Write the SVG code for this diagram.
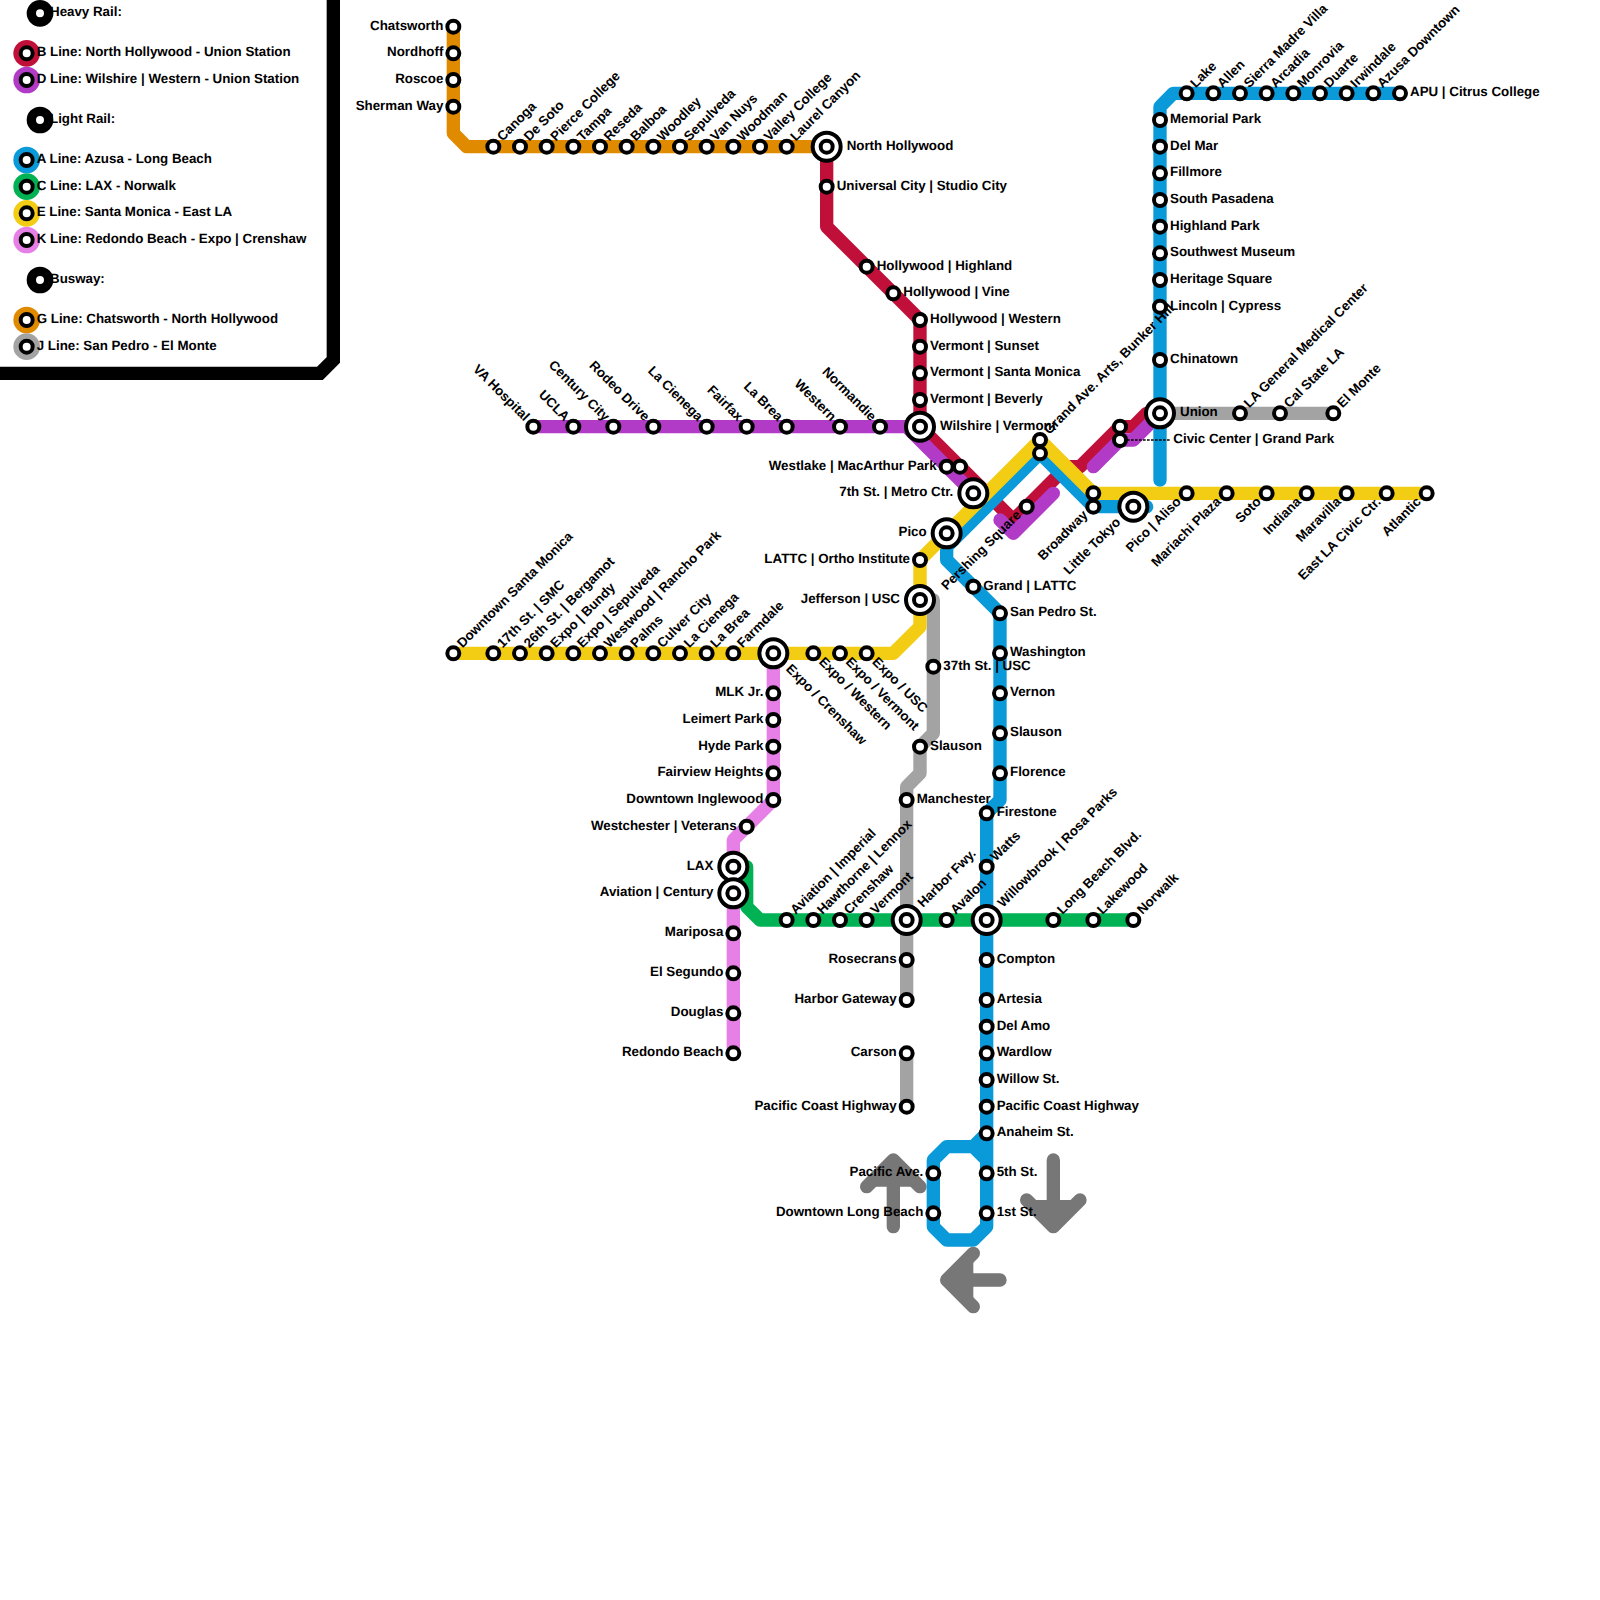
<svg xmlns="http://www.w3.org/2000/svg" width="1600" height="1600" viewBox="0 0 1600 1600">
<style>
text{font-family:"Liberation Sans",Arial,sans-serif;font-size:13.33px;font-weight:bold;fill:#000;text-rendering:geometricPrecision}
.e{text-anchor:end}
.ln{fill:none;stroke-width:1;stroke-linejoin:round;stroke-linecap:round}
.ar{fill:#777;stroke:#777;stroke-width:1;stroke-linejoin:round;stroke-linecap:round}
.st{fill:#fff;stroke:#000;stroke-width:4}
</style>
<defs>
<g id="s"><circle class="st" r="6"/></g>
<g id="b"><circle class="st" r="14"/><circle class="st" r="6"/></g>
</defs>
<rect width="1600" height="1600" fill="#fff"/>
<path d="M333.33-10V360L320 373.33H-10" fill="none" stroke="#000" stroke-width="13.33"/>
<g id="connectors" transform="scale(13.3333)">
<g id="arrows">
<path class="ar" d="M67 92V87M65 89L67 87L69 89"/>
<path class="ar" d="M79 87V92M77 90L79 92L81 90"/>
<path class="ar" d="M75 96H71M73 94L71 96L73 98"/>
</g>
<path id="line-G" class="ln" stroke="#e08a00" d="M34 2V10L35 11H62"/>
<path id="line-J" class="ln" stroke="#a3a3a3" d="M87 31H100M70 45V55L69 56V58L68 59V75M68 79V83"/>
<path id="line-C" class="ln" stroke="#00b253" d="M55 65H56V68L57 69H85"/>
<path id="line-K" class="ln" stroke="#e680e6" d="M58 49V60L55 63V79"/>
<path id="line-B" class="ln" stroke="#c0103a" d="M62 11V17L69 24V32L76 39L80 35H81L84 32H85L86 31H87"/>
<path id="line-D" class="ln" stroke="#b13bc6" d="M40 32H68L73 37M75 39L76 40L79 37M82 35L84 33H85L87 31"/>
<path id="line-A" class="ln" stroke="#0a99d9" d="M105 7H88L87 8V36M86 38H82L78 34L71 41V42L75 46V60L74 61V92L73 93H71L70 92V87L71 86H73L74 85M73 86L74 87"/>
<path id="line-E" class="ln" stroke="#f2cd14" d="M34 49H67L69 47V42L78 33L82 37H107"/>
</g>
<g id="legend">
<g id="lg-heavy" transform="translate(40 13.33)"><text x="10" y="3">Heavy Rail:</text><circle r="13.33"/><use href="#s"/></g>
<g id="lg-b" transform="translate(26.67 53.33)"><circle r="13.33" fill="#c0103a"/><text x="10" y="3">B Line: North Hollywood - Union Station</text><use href="#s"/></g>
<g id="lg-d" transform="translate(26.67 80)"><circle r="13.33" fill="#b13bc6"/><text x="10" y="3">D Line: Wilshire | Western - Union Station</text><use href="#s"/></g>
<g id="lg-light" transform="translate(40 120)"><text x="10" y="3">Light Rail:</text><circle r="13.33"/><use href="#s"/></g>
<g id="lg-a" transform="translate(26.67 160)"><circle r="13.33" fill="#0a99d9"/><text x="10" y="3">A Line: Azusa - Long Beach</text><use href="#s"/></g>
<g id="lg-c" transform="translate(26.67 186.67)"><circle r="13.33" fill="#00b253"/><text x="10" y="3">C Line: LAX - Norwalk</text><use href="#s"/></g>
<g id="lg-e" transform="translate(26.67 213.33)"><circle r="13.33" fill="#f2cd14"/><text x="10" y="3">E Line: Santa Monica - East LA</text><use href="#s"/></g>
<g id="lg-k" transform="translate(26.67 240)"><circle r="13.33" fill="#e680e6"/><text x="10" y="3">K Line: Redondo Beach - Expo | Crenshaw</text><use href="#s"/></g>
<g id="lg-bus" transform="translate(40 280)"><text x="10" y="3">Busway:</text><circle r="13.33"/><use href="#s"/></g>
<g id="lg-g" transform="translate(26.67 320)"><circle r="13.33" fill="#e08a00"/><text x="10" y="3">G Line: Chatsworth - North Hollywood</text><use href="#s"/></g>
<g id="lg-j" transform="translate(26.67 346.67)"><circle r="13.33" fill="#a3a3a3"/><text x="10" y="3">J Line: San Pedro - El Monte</text><use href="#s"/></g>
</g>
<g id="stations">
<g id="g1" transform="translate(453.33 26.67)"><text class="e" x="-10" y="3">Chatsworth</text><use href="#s"/></g>
<g id="g2" transform="translate(453.33 53.33)"><text class="e" x="-10" y="3">Nordhoff</text><use href="#s"/></g>
<g id="g3" transform="translate(453.33 80)"><text class="e" x="-10" y="3">Roscoe</text><use href="#s"/></g>
<g id="g4" transform="translate(453.33 106.67)"><text class="e" x="-10" y="3">Sherman Way</text><use href="#s"/></g>
<g id="g5" transform="translate(493.33 146.67)"><text transform="rotate(-45)" x="10" y="3">Canoga</text><use href="#s"/></g>
<g id="g6" transform="translate(520 146.67)"><text transform="rotate(-45)" x="10" y="3">De Soto</text><use href="#s"/></g>
<g id="g7" transform="translate(546.67 146.67)"><text transform="rotate(-45)" x="10" y="3">Pierce College</text><use href="#s"/></g>
<g id="g8" transform="translate(573.33 146.67)"><text transform="rotate(-45)" x="10" y="3">Tampa</text><use href="#s"/></g>
<g id="g9" transform="translate(600 146.67)"><text transform="rotate(-45)" x="10" y="3">Reseda</text><use href="#s"/></g>
<g id="g10" transform="translate(626.67 146.67)"><text transform="rotate(-45)" x="10" y="3">Balboa</text><use href="#s"/></g>
<g id="g11" transform="translate(653.33 146.67)"><text transform="rotate(-45)" x="10" y="3">Woodley</text><use href="#s"/></g>
<g id="g12" transform="translate(680 146.67)"><text transform="rotate(-45)" x="10" y="3">Sepulveda</text><use href="#s"/></g>
<g id="g13" transform="translate(706.67 146.67)"><text transform="rotate(-45)" x="10" y="3">Van Nuys</text><use href="#s"/></g>
<g id="g14" transform="translate(733.33 146.67)"><text transform="rotate(-45)" x="10" y="3">Woodman</text><use href="#s"/></g>
<g id="g15" transform="translate(760 146.67)"><text transform="rotate(-45)" x="10" y="3">Valley College</text><use href="#s"/></g>
<g id="g16" transform="translate(786.67 146.67)"><text transform="rotate(-45)" x="10" y="3">Laurel Canyon</text><use href="#s"/></g>
<g id="north-hollywood" transform="translate(826.67 146.67)"><text x="20" y="3">North Hollywood</text><use href="#b"/></g>
<g id="b1" transform="translate(826.67 186.67)"><text x="10" y="3">Universal City | Studio City</text><use href="#s"/></g>
<g id="b2" transform="translate(866.67 266.67)"><text x="10" y="3">Hollywood | Highland</text><use href="#s"/></g>
<g id="b3" transform="translate(893.33 293.33)"><text x="10" y="3">Hollywood | Vine</text><use href="#s"/></g>
<g id="b4" transform="translate(920 320)"><text x="10" y="3">Hollywood | Western</text><use href="#s"/></g>
<g id="b5" transform="translate(920 346.67)"><text x="10" y="3">Vermont | Sunset</text><use href="#s"/></g>
<g id="b6" transform="translate(920 373.33)"><text x="10" y="3">Vermont | Santa Monica</text><use href="#s"/></g>
<g id="b7" transform="translate(920 400)"><text x="10" y="3">Vermont | Beverly</text><use href="#s"/></g>
<g id="wilshire-vermont" transform="translate(920 426.67)"><text x="20" y="3">Wilshire | Vermont</text><use href="#b"/></g>
<g id="d1" transform="translate(533.33 426.67)"><text class="e" transform="rotate(45)" x="-10" y="3">VA Hospital</text><use href="#s"/></g>
<g id="d2" transform="translate(573.33 426.67)"><text class="e" transform="rotate(45)" x="-10" y="3">UCLA</text><use href="#s"/></g>
<g id="d3" transform="translate(613.33 426.67)"><text class="e" transform="rotate(45)" x="-10" y="3">Century City</text><use href="#s"/></g>
<g id="d4" transform="translate(653.33 426.67)"><text class="e" transform="rotate(45)" x="-10" y="3">Rodeo Drive</text><use href="#s"/></g>
<g id="d5" transform="translate(706.67 426.67)"><text class="e" transform="rotate(45)" x="-10" y="3">La Cienega</text><use href="#s"/></g>
<g id="d6" transform="translate(746.67 426.67)"><text class="e" transform="rotate(45)" x="-10" y="3">Fairfax</text><use href="#s"/></g>
<g id="d7" transform="translate(786.67 426.67)"><text class="e" transform="rotate(45)" x="-10" y="3">La Brea</text><use href="#s"/></g>
<g id="d8" transform="translate(840 426.67)"><text class="e" transform="rotate(45)" x="-10" y="3">Western</text><use href="#s"/></g>
<g id="d9" transform="translate(880 426.67)"><text class="e" transform="rotate(45)" x="-10" y="3">Normandie</text><use href="#s"/></g>
<g id="westlake" transform="translate(946.67 466.67)"><text class="e" x="-10" y="3">Westlake | MacArthur Park</text><use href="#s"/><use href="#s" x="13.33"/></g>
<g id="metro-center" transform="translate(973.33 493.33)"><text class="e" x="-20" y="3">7th St. | Metro Ctr.</text><use href="#b"/></g>
<g id="pershing" transform="translate(1026.67 506.67)"><text class="e" transform="rotate(-45)" x="-10" y="3">Pershing Square</text><use href="#s"/></g>
<g id="grand-ave" transform="translate(1040 440)"><text transform="rotate(-45)" x="10" y="3">Grand Ave. Arts, Bunker Hill</text><use href="#s"/><use href="#s" y="13.33"/></g>
<g id="civic" transform="translate(1120 440)"><path d="M7 0H50" stroke="#000" stroke-width="1.33" stroke-dasharray="2.67 1.33" fill="none"/><text x="53.33" y="3">Civic Center | Grand Park</text><use href="#s"/><use href="#s" y="-13.33"/></g>
<g id="union" transform="translate(1160 413.33)"><text x="20" y="3">Union</text><use href="#b"/></g>
<g id="j1" transform="translate(1240 413.33)"><text transform="rotate(-45)" x="10" y="3">LA General Medical Center</text><use href="#s"/></g>
<g id="j2" transform="translate(1280 413.33)"><text transform="rotate(-45)" x="10" y="3">Cal State LA</text><use href="#s"/></g>
<g id="j3" transform="translate(1333.33 413.33)"><text transform="rotate(-45)" x="10" y="3">El Monte</text><use href="#s"/></g>
<g id="a1" transform="translate(1186.67 93.33)"><text transform="rotate(-45)" x="10" y="3">Lake</text><use href="#s"/></g>
<g id="a2" transform="translate(1213.33 93.33)"><text transform="rotate(-45)" x="10" y="3">Allen</text><use href="#s"/></g>
<g id="a3" transform="translate(1240 93.33)"><text transform="rotate(-45)" x="10" y="3">Sierra Madre Villa</text><use href="#s"/></g>
<g id="a4" transform="translate(1266.67 93.33)"><text transform="rotate(-45)" x="10" y="3">Arcadia</text><use href="#s"/></g>
<g id="a5" transform="translate(1293.33 93.33)"><text transform="rotate(-45)" x="10" y="3">Monrovia</text><use href="#s"/></g>
<g id="a6" transform="translate(1320 93.33)"><text transform="rotate(-45)" x="10" y="3">Duarte</text><use href="#s"/></g>
<g id="a7" transform="translate(1346.67 93.33)"><text transform="rotate(-45)" x="10" y="3">Irwindale</text><use href="#s"/></g>
<g id="a8" transform="translate(1373.33 93.33)"><text transform="rotate(-45)" x="10" y="3">Azusa Downtown</text><use href="#s"/></g>
<g id="a9" transform="translate(1400 93.33)"><text x="10" y="3">APU | Citrus College</text><use href="#s"/></g>
<g id="a10" transform="translate(1160 120)"><text x="10" y="3">Memorial Park</text><use href="#s"/></g>
<g id="a11" transform="translate(1160 146.67)"><text x="10" y="3">Del Mar</text><use href="#s"/></g>
<g id="a12" transform="translate(1160 173.33)"><text x="10" y="3">Fillmore</text><use href="#s"/></g>
<g id="a13" transform="translate(1160 200)"><text x="10" y="3">South Pasadena</text><use href="#s"/></g>
<g id="a14" transform="translate(1160 226.67)"><text x="10" y="3">Highland Park</text><use href="#s"/></g>
<g id="a15" transform="translate(1160 253.33)"><text x="10" y="3">Southwest Museum</text><use href="#s"/></g>
<g id="a16" transform="translate(1160 280)"><text x="10" y="3">Heritage Square</text><use href="#s"/></g>
<g id="a17" transform="translate(1160 306.67)"><text x="10" y="3">Lincoln | Cypress</text><use href="#s"/></g>
<g id="a18" transform="translate(1160 360)"><text x="10" y="3">Chinatown</text><use href="#s"/></g>
<g id="broadway" transform="translate(1093.33 506.67)"><text class="e" transform="rotate(-45)" x="-10" y="3">Broadway</text><use href="#s"/><use href="#s" y="-13.33"/></g>
<g id="little-tokyo" transform="translate(1133.33 506.67)"><text class="e" transform="rotate(-45)" x="-20" y="3">Little Tokyo</text><use href="#b"/></g>
<g id="e20" transform="translate(1186.67 493.33)"><text class="e" transform="rotate(-45)" x="-10" y="3">Pico | Aliso</text><use href="#s"/></g>
<g id="e21" transform="translate(1226.67 493.33)"><text class="e" transform="rotate(-45)" x="-10" y="3">Mariachi Plaza</text><use href="#s"/></g>
<g id="e22" transform="translate(1266.67 493.33)"><text class="e" transform="rotate(-45)" x="-10" y="3">Soto</text><use href="#s"/></g>
<g id="e23" transform="translate(1306.67 493.33)"><text class="e" transform="rotate(-45)" x="-10" y="3">Indiana</text><use href="#s"/></g>
<g id="e24" transform="translate(1346.67 493.33)"><text class="e" transform="rotate(-45)" x="-10" y="3">Maravilla</text><use href="#s"/></g>
<g id="e25" transform="translate(1386.67 493.33)"><text class="e" transform="rotate(-45)" x="-10" y="3">East LA Civic Ctr.</text><use href="#s"/></g>
<g id="e26" transform="translate(1426.67 493.33)"><text class="e" transform="rotate(-45)" x="-10" y="3">Atlantic</text><use href="#s"/></g>
<g id="pico" transform="translate(946.67 533.33)"><text class="e" x="-20" y="3">Pico</text><use href="#b"/></g>
<g id="lattc" transform="translate(920 560)"><text class="e" x="-10" y="3">LATTC | Ortho Institute</text><use href="#s"/></g>
<g id="jefferson" transform="translate(920 600)"><text class="e" x="-20" y="3">Jefferson | USC</text><use href="#b"/></g>
<g id="a20" transform="translate(973.33 586.67)"><text x="10" y="3">Grand | LATTC</text><use href="#s"/></g>
<g id="a21" transform="translate(1000 613.33)"><text x="10" y="3">San Pedro St.</text><use href="#s"/></g>
<g id="a22" transform="translate(1000 653.33)"><text x="10" y="3">Washington</text><use href="#s"/></g>
<g id="a23" transform="translate(1000 693.33)"><text x="10" y="3">Vernon</text><use href="#s"/></g>
<g id="a24" transform="translate(1000 733.33)"><text x="10" y="3">Slauson</text><use href="#s"/></g>
<g id="a25" transform="translate(1000 773.33)"><text x="10" y="3">Florence</text><use href="#s"/></g>
<g id="a26" transform="translate(986.67 813.33)"><text x="10" y="3">Firestone</text><use href="#s"/></g>
<g id="a27" transform="translate(986.67 866.67)"><text transform="rotate(-45)" x="10" y="3">Watts</text><use href="#s"/></g>
<g id="willowbrook" transform="translate(986.67 920)"><text transform="rotate(-45)" x="20" y="3">Willowbrook | Rosa Parks</text><use href="#b"/></g>
<g id="a28" transform="translate(986.67 960)"><text x="10" y="3">Compton</text><use href="#s"/></g>
<g id="a29" transform="translate(986.67 1000)"><text x="10" y="3">Artesia</text><use href="#s"/></g>
<g id="a30" transform="translate(986.67 1026.67)"><text x="10" y="3">Del Amo</text><use href="#s"/></g>
<g id="a31" transform="translate(986.67 1053.33)"><text x="10" y="3">Wardlow</text><use href="#s"/></g>
<g id="a32" transform="translate(986.67 1080)"><text x="10" y="3">Willow St.</text><use href="#s"/></g>
<g id="a33" transform="translate(986.67 1106.67)"><text x="10" y="3">Pacific Coast Highway</text><use href="#s"/></g>
<g id="a34" transform="translate(986.67 1133.33)"><text x="10" y="3">Anaheim St.</text><use href="#s"/></g>
<g id="a35" transform="translate(986.67 1173.33)"><text x="10" y="3">5th St.</text><use href="#s"/></g>
<g id="a36" transform="translate(986.67 1213.33)"><text x="10" y="3">1st St.</text><use href="#s"/></g>
<g id="a37" transform="translate(933.33 1173.33)"><text class="e" x="-10" y="3">Pacific Ave.</text><use href="#s"/></g>
<g id="a38" transform="translate(933.33 1213.33)"><text class="e" x="-10" y="3">Downtown Long Beach</text><use href="#s"/></g>
<g id="j10" transform="translate(933.33 666.67)"><text x="10" y="3">37th St. | USC</text><use href="#s"/></g>
<g id="j11" transform="translate(920 746.67)"><text x="10" y="3">Slauson</text><use href="#s"/></g>
<g id="j12" transform="translate(906.67 800)"><text x="10" y="3">Manchester</text><use href="#s"/></g>
<g id="harbor-fwy" transform="translate(906.67 920)"><text transform="rotate(-45)" x="20" y="3">Harbor Fwy.</text><use href="#b"/></g>
<g id="j13" transform="translate(906.67 960)"><text class="e" x="-10" y="3">Rosecrans</text><use href="#s"/></g>
<g id="j14" transform="translate(906.67 1000)"><text class="e" x="-10" y="3">Harbor Gateway</text><use href="#s"/></g>
<g id="j15" transform="translate(906.67 1053.33)"><text class="e" x="-10" y="3">Carson</text><use href="#s"/></g>
<g id="j16" transform="translate(906.67 1106.67)"><text class="e" x="-10" y="3">Pacific Coast Highway</text><use href="#s"/></g>
<g id="c1" transform="translate(786.67 920)"><text transform="rotate(-45)" x="10" y="3">Aviation | Imperial</text><use href="#s"/></g>
<g id="c2" transform="translate(813.33 920)"><text transform="rotate(-45)" x="10" y="3">Hawthorne | Lennox</text><use href="#s"/></g>
<g id="c3" transform="translate(840 920)"><text transform="rotate(-45)" x="10" y="3">Crenshaw</text><use href="#s"/></g>
<g id="c4" transform="translate(866.67 920)"><text transform="rotate(-45)" x="10" y="3">Vermont</text><use href="#s"/></g>
<g id="c5" transform="translate(946.67 920)"><text transform="rotate(-45)" x="10" y="3">Avalon</text><use href="#s"/></g>
<g id="c6" transform="translate(1053.33 920)"><text transform="rotate(-45)" x="10" y="3">Long Beach Blvd.</text><use href="#s"/></g>
<g id="c7" transform="translate(1093.33 920)"><text transform="rotate(-45)" x="10" y="3">Lakewood</text><use href="#s"/></g>
<g id="c8" transform="translate(1133.33 920)"><text transform="rotate(-45)" x="10" y="3">Norwalk</text><use href="#s"/></g>
<g id="e1" transform="translate(453.33 653.33)"><text transform="rotate(-45)" x="10" y="3">Downtown Santa Monica</text><use href="#s"/></g>
<g id="e2" transform="translate(493.33 653.33)"><text transform="rotate(-45)" x="10" y="3">17th St. | SMC</text><use href="#s"/></g>
<g id="e3" transform="translate(520 653.33)"><text transform="rotate(-45)" x="10" y="3">26th St. | Bergamot</text><use href="#s"/></g>
<g id="e4" transform="translate(546.67 653.33)"><text transform="rotate(-45)" x="10" y="3">Expo | Bundy</text><use href="#s"/></g>
<g id="e5" transform="translate(573.33 653.33)"><text transform="rotate(-45)" x="10" y="3">Expo | Sepulveda</text><use href="#s"/></g>
<g id="e6" transform="translate(600 653.33)"><text transform="rotate(-45)" x="10" y="3">Westwood | Rancho Park</text><use href="#s"/></g>
<g id="e7" transform="translate(626.67 653.33)"><text transform="rotate(-45)" x="10" y="3">Palms</text><use href="#s"/></g>
<g id="e8" transform="translate(653.33 653.33)"><text transform="rotate(-45)" x="10" y="3">Culver City</text><use href="#s"/></g>
<g id="e9" transform="translate(680 653.33)"><text transform="rotate(-45)" x="10" y="3">La Cienega</text><use href="#s"/></g>
<g id="e10" transform="translate(706.67 653.33)"><text transform="rotate(-45)" x="10" y="3">La Brea</text><use href="#s"/></g>
<g id="e11" transform="translate(733.33 653.33)"><text transform="rotate(-45)" x="10" y="3">Farmdale</text><use href="#s"/></g>
<g id="expo-crenshaw" transform="translate(773.33 653.33)"><text transform="rotate(45)" x="20" y="3">Expo / Crenshaw</text><use href="#b"/></g>
<g id="e12" transform="translate(813.33 653.33)"><text transform="rotate(45)" x="10" y="3">Expo / Western</text><use href="#s"/></g>
<g id="e13" transform="translate(840 653.33)"><text transform="rotate(45)" x="10" y="3">Expo / Vermont</text><use href="#s"/></g>
<g id="e14" transform="translate(866.67 653.33)"><text transform="rotate(45)" x="10" y="3">Expo / USC</text><use href="#s"/></g>
<g id="k1" transform="translate(773.33 693.33)"><text class="e" x="-10" y="3">MLK Jr.</text><use href="#s"/></g>
<g id="k2" transform="translate(773.33 720)"><text class="e" x="-10" y="3">Leimert Park</text><use href="#s"/></g>
<g id="k3" transform="translate(773.33 746.67)"><text class="e" x="-10" y="3">Hyde Park</text><use href="#s"/></g>
<g id="k4" transform="translate(773.33 773.33)"><text class="e" x="-10" y="3">Fairview Heights</text><use href="#s"/></g>
<g id="k5" transform="translate(773.33 800)"><text class="e" x="-10" y="3">Downtown Inglewood</text><use href="#s"/></g>
<g id="k6" transform="translate(746.67 826.67)"><text class="e" x="-10" y="3">Westchester | Veterans</text><use href="#s"/></g>
<g id="lax" transform="translate(733.33 866.67)"><text class="e" x="-20" y="3">LAX</text><use href="#b"/></g>
<g id="aviation-century" transform="translate(733.33 893.33)"><text class="e" x="-20" y="3">Aviation | Century</text><use href="#b"/></g>
<g id="k7" transform="translate(733.33 933.33)"><text class="e" x="-10" y="3">Mariposa</text><use href="#s"/></g>
<g id="k8" transform="translate(733.33 973.33)"><text class="e" x="-10" y="3">El Segundo</text><use href="#s"/></g>
<g id="k9" transform="translate(733.33 1013.33)"><text class="e" x="-10" y="3">Douglas</text><use href="#s"/></g>
<g id="k10" transform="translate(733.33 1053.33)"><text class="e" x="-10" y="3">Redondo Beach</text><use href="#s"/></g>
</g>
</svg>
